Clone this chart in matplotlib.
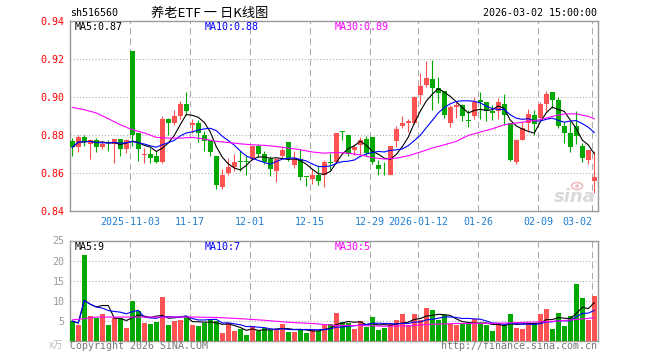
import matplotlib
matplotlib.use("Agg")
import matplotlib.pyplot as plt
from matplotlib.patches import Ellipse
import numpy as np
import pandas as pd

# daily K-line data, 88 trading days (2025-10-20 .. 2026-03-02)
opens = [0.8767, 0.8735, 0.8789, 0.8754, 0.8775, 0.8735, 0.8763, 0.8754, 0.8781, 0.8725,
         0.9240, 0.8812, 0.8693, 0.8702, 0.8691, 0.8660, 0.8886, 0.8865, 0.8898, 0.8965,
         0.8854, 0.8865, 0.8802, 0.8772, 0.8691, 0.8530, 0.8602, 0.8633, 0.8662, 0.8662,
         0.8675, 0.8744, 0.8702, 0.8675, 0.8612, 0.8691, 0.8765, 0.8644, 0.8674, 0.8581,
         0.8570, 0.8591, 0.8591, 0.8656, 0.8661, 0.8823, 0.8802, 0.8723, 0.8746, 0.8779,
         0.8791, 0.8644, 0.8631, 0.8591, 0.8767, 0.8846, 0.8865, 0.8865, 0.9009, 0.9065,
         0.9095, 0.9046, 0.9033, 0.8863, 0.8946, 0.8956, 0.8877, 0.8898, 0.8986, 0.8974,
         0.8928, 0.8928, 0.8963, 0.8863, 0.8658, 0.8775, 0.8863, 0.8904, 0.8889, 0.8963,
         0.9026, 0.8986, 0.8846, 0.8811, 0.8846, 0.8744, 0.8670, 0.8561]
highs = [0.8784, 0.8802, 0.8802, 0.8779, 0.8784, 0.8761, 0.8775, 0.8781, 0.8781, 0.8781,
         0.9240, 0.8812, 0.8732, 0.8732, 0.8718, 0.8898, 0.8889, 0.8933, 0.8977, 0.9028,
         0.8886, 0.8881, 0.8819, 0.8775, 0.8691, 0.8623, 0.8679, 0.8702, 0.8718, 0.8691,
         0.8744, 0.8753, 0.8718, 0.8688, 0.8679, 0.8740, 0.8765, 0.8714, 0.8728, 0.8581,
         0.8623, 0.8644, 0.8670, 0.8705, 0.8811, 0.8823, 0.8802, 0.8753, 0.8788, 0.8793,
         0.8791, 0.8670, 0.8661, 0.8744, 0.8846, 0.8898, 0.8886, 0.9004, 0.9126, 0.9188,
         0.9196, 0.9105, 0.9033, 0.8956, 0.8974, 0.8963, 0.8933, 0.8998, 0.9026, 0.8974,
         0.8960, 0.8995, 0.9016, 0.8863, 0.8779, 0.8868, 0.8939, 0.8933, 0.8974, 0.9030,
         0.9026, 0.8998, 0.8868, 0.8872, 0.8925, 0.8758, 0.8721, 0.8714]
lows = [0.8688, 0.8711, 0.8740, 0.8675, 0.8711, 0.8728, 0.8718, 0.8656, 0.8688, 0.8705,
        0.8740, 0.8665, 0.8656, 0.8651, 0.8651, 0.8651, 0.8798, 0.8854, 0.8886, 0.8907,
        0.8810, 0.8763, 0.8718, 0.8688, 0.8519, 0.8519, 0.8588, 0.8612, 0.8609, 0.8588,
        0.8670, 0.8686, 0.8649, 0.8586, 0.8556, 0.8679, 0.8665, 0.8626, 0.8565, 0.8535,
        0.8542, 0.8539, 0.8525, 0.8616, 0.8653, 0.8772, 0.8691, 0.8696, 0.8696, 0.8691,
        0.8649, 0.8588, 0.8588, 0.8588, 0.8739, 0.8837, 0.8816, 0.8858, 0.8963, 0.9051,
        0.8933, 0.8968, 0.8889, 0.8840, 0.8889, 0.8872, 0.8840, 0.8886, 0.8886, 0.8872,
        0.8881, 0.8886, 0.8854, 0.8665, 0.8649, 0.8775, 0.8814, 0.8802, 0.8881, 0.8928,
        0.8942, 0.8837, 0.8758, 0.8711, 0.8753, 0.8658, 0.8647, 0.8498]
closes = [0.8735, 0.8791, 0.8767, 0.8775, 0.8735, 0.8754, 0.8756, 0.8781, 0.8725, 0.8775,
          0.8802, 0.8725, 0.8702, 0.8681, 0.8660, 0.8886, 0.8865, 0.8898, 0.8965, 0.8925,
          0.8865, 0.8812, 0.8767, 0.8712, 0.8540, 0.8591, 0.8633, 0.8660, 0.8660, 0.8660,
          0.8744, 0.8702, 0.8660, 0.8623, 0.8675, 0.8723, 0.8679, 0.8675, 0.8581, 0.8579,
          0.8591, 0.8560, 0.8660, 0.8654, 0.8811, 0.8816, 0.8702, 0.8735, 0.8775, 0.8705,
          0.8661, 0.8623, 0.8630, 0.8744, 0.8833, 0.8865, 0.8874, 0.8998, 0.9056, 0.9098,
          0.9046, 0.9021, 0.8904, 0.8946, 0.8956, 0.8898, 0.8874, 0.8972, 0.8974, 0.8928,
          0.8916, 0.8974, 0.8904, 0.8670, 0.8775, 0.8837, 0.8911, 0.8858, 0.8963, 0.9016,
          0.8986, 0.8846, 0.8811, 0.8735, 0.8793, 0.8682, 0.8721, 0.8579]
# volume in 万
volumes = [4.9, 3.9, 21.4, 6.2, 5.7, 6.7, 3.9, 5.7, 5.7, 3.2,
           9.9, 7.4, 4.4, 4.2, 4.7, 10.9, 3.9, 4.9, 5.2, 5.9,
           3.9, 3.7, 4.4, 5.4, 5.0, 1.9, 4.3, 2.4, 2.9, 1.4,
           3.7, 2.4, 3.2, 2.7, 2.7, 4.2, 2.2, 2.2, 2.9, 1.9,
           2.9, 2.4, 3.9, 4.2, 6.9, 4.6, 4.4, 2.9, 4.9, 3.3,
           5.9, 2.7, 3.2, 4.1, 5.2, 6.7, 3.9, 6.7, 5.2, 8.2,
           7.6, 5.2, 6.3, 4.2, 3.9, 4.2, 4.2, 5.4, 4.4, 3.9,
           2.4, 4.2, 3.9, 6.7, 3.2, 2.9, 4.4, 4.4, 6.7, 7.9,
           2.9, 6.9, 3.7, 6.2, 14.2, 10.7, 5.2, 11.2]

# MA30 (needs data before the visible window)
ma30_idx = [0, 2, 4, 6, 8, 10, 12, 14, 16, 18, 20, 22, 24, 26, 28, 30, 32, 34, 36, 38,
            40, 42, 44, 46, 48, 50, 52, 54, 56, 58, 60, 62, 64, 66, 68, 70, 72, 74, 76,
            78, 80, 82, 84, 86, 87]
ma30_price = [0.8945, 0.8933, 0.8916, 0.8886, 0.8854, 0.8828, 0.8811, 0.8788, 0.8784, 0.8784,
              0.8788, 0.8779, 0.8767, 0.8761, 0.8754, 0.8749, 0.8746, 0.8740, 0.8732, 0.8723,
              0.8711, 0.8705, 0.8709, 0.8705, 0.8696, 0.8682, 0.8674, 0.8679, 0.8691, 0.8711,
              0.8732, 0.8749, 0.8767, 0.8798, 0.8816, 0.8833, 0.8854, 0.8863, 0.8872, 0.8881,
              0.8898, 0.8911, 0.8911, 0.8898, 0.8886]
vma30_idx = [0, 2, 4, 8, 12, 16, 20, 24, 28, 32, 36, 40, 44, 48, 52, 56, 60, 64, 68, 72,
             76, 80, 84, 87]
ma30_vol = [5.2, 5.5, 5.9, 5.9, 5.9, 5.9, 5.9, 5.8, 5.5, 5.1, 4.6, 4.3, 3.8, 3.8, 3.6, 3.7,
            4.1, 4.3, 4.3, 4.4, 4.6, 4.8, 5.3, 5.7]

tick_idx = [10, 20, 30, 40, 50, 58, 68, 78, 87]
tick_labels = ['2025-11-03', '11-17', '12-01', '12-15', '12-29', '2026-01-12',
               '01-26', '02-09', '03-02']

RED = '#ff5353'
GREEN = '#00a800'
GRID = '#aaaaaa'
MONO = 'DejaVu Sans Mono'
CJK = ['Noto Sans CJK SC', 'DejaVu Sans']

W, H = 660, 360
fig = plt.figure(figsize=(6.6, 3.6), dpi=100)


def fx(px):
    return px / W


def fy(py):
    return 1 - py / H


ax = fig.add_axes([fx(70), fy(211.3), fx(528), 190.6 / H])
axv = fig.add_axes([fx(70), fy(340.7), fx(528), 100.2 / H])

x = np.arange(len(closes))
o = np.array(opens)
c = np.array(closes)
up = c >= o
cols = [RED if u else GREEN for u in up]

ax.vlines(x, lows, highs, colors=cols, linewidth=0.8, zorder=3)
body = np.maximum(np.abs(c - o), 0.0004)
ax.bar(x, body, bottom=np.minimum(o, c), width=0.8, color=cols, linewidth=0, zorder=4)

close_s = pd.Series(closes)
ax.plot(x, close_s.rolling(5, min_periods=1).mean(), color='black', lw=0.8, zorder=5)
ax.plot(x, close_s.rolling(10, min_periods=1).mean(), color='#0000ff', lw=0.8, zorder=5)
ax.plot(ma30_idx, ma30_price, color='#ff00ff', lw=0.8, zorder=5)

axv.bar(x, volumes, width=0.8, color=cols, linewidth=0, zorder=3)
vol_s = pd.Series(volumes)
axv.plot(x, vol_s.rolling(5, min_periods=1).mean(), color='black', lw=0.8, zorder=5)
axv.plot(x, vol_s.rolling(10, min_periods=1).mean(), color='#0000ff', lw=0.8, zorder=5)
axv.plot(vma30_idx, ma30_vol, color='#ff00ff', lw=0.8, zorder=5)

for a in (ax, axv):
    a.set_xlim(-0.38, 87.62)
    for s in a.spines.values():
        s.set_color('#999999')
        s.set_linewidth(1.0)
    for t in tick_idx:
        a.axvline(t - 0.35, color=GRID, lw=0.75, linestyle=(0, (6, 4)), zorder=1)

ax.set_ylim(0.84, 0.94)
for lv in [0.86, 0.88, 0.90, 0.92]:
    ax.axhline(lv, color=GRID, lw=0.75, linestyle=(0, (1, 2)), zorder=1)
ax.set_yticks([0.84, 0.86, 0.88, 0.90, 0.92, 0.94])
ax.set_yticklabels(['%.2f' % v for v in [0.84, 0.86, 0.88, 0.90, 0.92, 0.94]],
                   color='#ff0000', family=MONO, fontsize=7.2)
ax.set_xticks([t - 0.35 for t in tick_idx])
ax.set_xticklabels(tick_labels, color='#1f7fd0', family=MONO, fontsize=7.2)
ax.get_xticklabels()[-1].set_ha('right')
ax.tick_params(length=0, pad=4)

axv.set_ylim(0, 25)
for lv in [5, 10, 15, 20]:
    axv.axhline(lv, color=GRID, lw=0.75, linestyle=(0, (1, 2)), zorder=1)
axv.set_yticks([5, 10, 15, 20, 25])
axv.set_yticklabels(['5', '10', '15', '20', '25'], color='#999999', family=MONO, fontsize=7.2)
axv.set_xticks([])
axv.tick_params(length=0, pad=4)

# header
fig.text(fx(70), fy(13.5), 'sh516560', family=MONO, fontsize=7.2, va='center', ha='left')
fig.text(fx(210), fy(13), '养老ETF 一 日K线图', family=CJK, fontsize=9.5, va='center', ha='center')
fig.text(fx(597), fy(13.5), '2026-03-02 15:00:00', family=MONO, fontsize=7.2,
         va='center', ha='right')

# MA legends
for ypx, labels in [(26.5, ['MA5:0.87', 'MA10:0.88', 'MA30:0.89']),
                    (246.5, ['MA5:9', 'MA10:7', 'MA30:5'])]:
    for xpx, lab, col in zip([75, 205, 335], labels, ['black', '#0000ff', '#ff00ff']):
        fig.text(fx(xpx), fy(ypx), lab, family=MONO, fontsize=7.2, color=col,
                 va='center', ha='left')

# footer
fig.text(fx(70), fy(345.7), 'Copyright 2026 SINA.COM', family=MONO, fontsize=7.2,
         color='#777777', va='center', ha='left')
fig.text(fx(597), fy(345.7), 'http://finance.sina.com.cn', family=MONO, fontsize=7.2,
         color='#777777', va='center', ha='right')
fig.text(fx(63), fy(345), 'x万', family=CJK, fontsize=7, color='#bbbbbb',
         va='center', ha='right')

# watermark: eye logo + "sina"
fig.add_artist(Ellipse((fx(577), fy(186)), fx(11), 7 / H, transform=fig.transFigure,
                       facecolor='none', edgecolor='#eec0c0', lw=1.2))
fig.add_artist(Ellipse((fx(577), fy(186)), fx(4), 3.5 / H, transform=fig.transFigure,
                       facecolor='#eec0c0', edgecolor='none'))
fig.text(fx(596), fy(197), 'sina', fontsize=13, fontweight='bold', style='italic',
         color='#d9d9d9', va='center', ha='right', family='DejaVu Sans')

fig.savefig('out.png', dpi=100)
